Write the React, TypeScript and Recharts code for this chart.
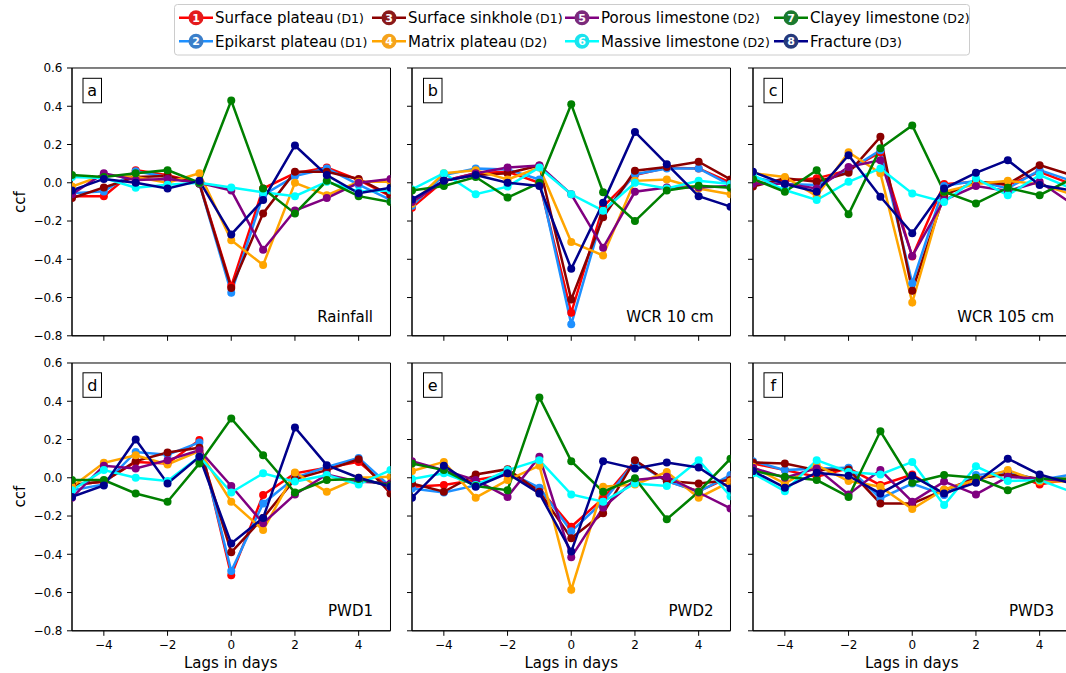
import React from 'react';
import { LineChart, Line, XAxis, YAxis, ReferenceArea } from 'recharts';

const FONT = '"DejaVu Sans", Verdana, sans-serif';

// ---------- data ----------
const lags = [-5, -4, -3, -2, -1, 0, 1, 2, 3, 4, 5];
const xTicks = [-4, -2, 0, 2, 4];
const yTicks = [-0.8, -0.6, -0.4, -0.2, 0, 0.2, 0.4, 0.6];

const seriesNumbers = [1, 2, 3, 4, 5, 6, 7, 8];
const seriesNames = [
  'Surface plateau',
  'Epikarst plateau',
  'Surface sinkhole',
  'Matrix plateau',
  'Porous limestone',
  'Massive limestone',
  'Clayey limestone',
  'Fracture',
];
const seriesDepths = ['(D1)', '(D1)', '(D1)', '(D2)', '(D2)', '(D2)', '(D2)', '(D3)'];

const panelLetters = ['a', 'b', 'c', 'd', 'e', 'f'];
const panelTitles = ['Rainfall', 'WCR 10 cm', 'WCR 105 cm', 'PWD1', 'PWD2', 'PWD3'];

// rows: series 1..8, columns: lags -5..5
const rainfallCcf = [
  [-0.07, -0.07, 0.066, 0.04, 0.0, -0.54, -0.03, 0.05, 0.08, 0.015, -0.07],
  [-0.055, -0.045, 0.06, 0.03, -0.005, -0.575, -0.065, 0.035, 0.075, -0.01, -0.09],
  [-0.08, -0.025, 0.03, 0.035, -0.005, -0.55, -0.16, 0.057, 0.057, 0.02, -0.065],
  [-0.02, 0.04, 0.03, 0.0, 0.05, -0.3, -0.43, 0.0, -0.065, 0.005, 0.005],
  [-0.06, 0.05, 0.015, 0.02, 0.0, -0.04, -0.35, -0.145, -0.08, 0.0, 0.02],
  [0.03, 0.025, -0.026, -0.01, 0.0, -0.025, -0.05, -0.07, 0.005, -0.045, -0.04],
  [0.04, 0.03, 0.05, 0.066, 0.0, 0.43, -0.03, -0.16, 0.01, -0.07, -0.1],
  [-0.04, 0.02, 0.0, -0.03, 0.01, -0.27, -0.09, 0.195, 0.04, -0.055, -0.026],
];
const wcr10Ccf = [
  [-0.13, 0.01, 0.05, 0.057, 0.0, -0.68, -0.125, 0.04, 0.078, 0.075, 0.0],
  [-0.12, 0.04, 0.075, 0.07, 0.017, -0.74, -0.16, 0.045, 0.075, 0.075, -0.012],
  [-0.1, 0.01, 0.04, 0.05, 0.09, -0.61, -0.18, 0.063, 0.083, 0.11, 0.017],
  [-0.11, 0.05, 0.066, 0.017, 0.08, -0.31, -0.38, 0.01, 0.017, -0.03, -0.06],
  [-0.1, 0.01, 0.05, 0.08, 0.09, -0.06, -0.34, -0.047, -0.025, -0.025, -0.017],
  [-0.035, 0.05, -0.06, -0.02, 0.08, -0.06, -0.146, 0.0, -0.03, 0.01, -0.007],
  [-0.04, -0.017, 0.03, -0.077, 0.0, 0.41, -0.05, -0.2, -0.04, -0.015, -0.026],
  [-0.087, 0.01, 0.04, 0.0, -0.017, -0.45, -0.105, 0.266, 0.097, -0.07, -0.125],
];
const wcr105Ccf = [
  [-0.005, 0.01, 0.023, 0.066, 0.16, -0.386, -0.007, 0.005, -0.012, 0.057, -0.007],
  [0.03, -0.007, -0.012, 0.066, 0.17, -0.525, -0.017, 0.01, -0.03, 0.066, 0.01],
  [-0.02, 0.023, 0.005, 0.052, 0.24, -0.565, -0.065, 0.005, -0.007, 0.092, 0.04],
  [0.05, 0.03, -0.07, 0.16, 0.05, -0.626, -0.047, -0.007, 0.01, -0.007, -0.06],
  [-0.005, -0.005, -0.03, 0.083, 0.118, -0.383, -0.09, -0.017, -0.043, 0.005, -0.108],
  [0.04, -0.038, -0.09, 0.005, 0.075, -0.056, -0.1, 0.023, -0.065, 0.04, -0.03],
  [0.02, -0.047, 0.066, -0.165, 0.18, 0.3, -0.047, -0.108, -0.026, -0.065, 0.02],
  [0.057, -0.007, -0.047, 0.144, -0.073, -0.264, -0.03, 0.052, 0.118, -0.012, -0.04],
];
const pwd1Ccf = [
  [-0.038, -0.02, 0.083, 0.075, 0.197, -0.51, -0.09, 0.023, 0.052, 0.083, -0.056],
  [-0.065, -0.035, 0.135, 0.12, 0.185, -0.487, -0.134, 0.0, 0.057, 0.104, -0.047],
  [-0.038, -0.02, 0.087, 0.132, 0.157, -0.39, -0.21, -0.007, 0.04, 0.097, -0.082],
  [-0.047, 0.078, 0.118, 0.07, 0.14, -0.125, -0.273, 0.028, -0.073, 0.0, 0.005],
  [-0.104, 0.063, 0.049, 0.092, 0.144, -0.043, -0.238, -0.087, 0.017, -0.02, -0.03],
  [-0.065, 0.04, 0.0, -0.017, 0.11, -0.077, 0.023, -0.02, 0.014, -0.035, 0.04],
  [-0.012, -0.012, -0.082, -0.125, 0.075, 0.31, 0.118, -0.077, -0.012, -0.007, -0.04],
  [-0.1, -0.04, 0.2, -0.03, 0.11, -0.343, -0.21, 0.263, 0.066, 0.0, -0.047],
];
const pwd2Ccf = [
  [-0.047, -0.038, -0.012, 0.017, -0.056, -0.256, -0.108, 0.087, -0.017, -0.07, 0.005],
  [-0.056, -0.077, -0.04, 0.03, -0.052, -0.28, -0.125, 0.083, -0.017, -0.073, 0.014],
  [-0.03, -0.073, 0.017, 0.045, -0.073, -0.316, -0.186, 0.092, -0.017, -0.03, -0.012],
  [0.035, 0.083, -0.104, -0.012, 0.063, -0.586, -0.047, -0.035, 0.03, -0.104, -0.02],
  [0.087, 0.04, -0.012, -0.1, 0.11, -0.415, -0.156, -0.012, 0.005, -0.077, -0.16],
  [-0.007, 0.023, -0.038, 0.04, 0.092, -0.087, -0.125, -0.03, -0.043, 0.092, -0.096],
  [0.075, 0.04, -0.043, -0.065, 0.42, 0.087, -0.073, -0.003, -0.217, -0.073, 0.1],
  [-0.104, 0.063, -0.047, 0.023, -0.082, -0.386, 0.087, 0.049, 0.08, 0.054, -0.056],
];
const pwd3Ccf = [
  [0.075, 0.04, 0.005, 0.049, -0.038, 0.017, -0.087, -0.007, 0.028, -0.035, -0.005],
  [0.087, 0.04, 0.049, 0.052, -0.108, -0.03, -0.09, 0.014, 0.03, -0.012, 0.017],
  [0.08, 0.075, 0.04, 0.043, -0.134, -0.134, -0.065, -0.003, 0.017, -0.005, -0.007],
  [0.057, -0.03, 0.066, -0.017, -0.047, -0.163, -0.061, -0.012, 0.04, -0.02, -0.02],
  [0.052, 0.0, 0.049, -0.087, 0.04, -0.125, -0.02, -0.087, 0.005, -0.005, -0.02],
  [0.023, -0.07, 0.092, 0.03, 0.017, 0.083, -0.143, 0.06, -0.017, -0.012, -0.073],
  [0.035, 0.005, -0.012, -0.1, 0.243, -0.026, 0.014, 0.0, -0.065, -0.005, -0.005],
  [0.035, -0.052, 0.026, 0.01, -0.082, 0.01, -0.082, -0.026, 0.1, 0.017, -0.03],
];

const panelData = [rainfallCcf, wcr10Ccf, wcr105Ccf, pwd1Ccf, pwd2Ccf, pwd3Ccf];

// ---------- styles ----------
const lineColors = ['#ff0000', '#1e90ff', '#8b0000', '#ffa500', '#800080', '#00ffff', '#008000', '#00008b'];
const legendCircleColors = ['#e41a1c', '#3b7fca', '#8b1a1a', '#f5a31c', '#7b2a7b', '#19e3ee', '#1b7a2e', '#263a7c'];

const PANEL_LEFTS = [71.5, 412, 752.5];
const PANEL_TOPS = [68.3, 362.8];
const PW = 318.5;
const PH = 267.8;
const Y_AXIS_W = 60;
const X_AXIS_H = 50;
const M_TOP = 10;
const M_RIGHT = 10;

const LEGEND_COLS = [179, 372, 565, 774];
const LEGEND_ROWS = [17.7, 41.2];

const fmtX = (v: number) => (v < 0 ? '\u2212' : '') + Math.abs(v).toString();
const fmtY = (v: number) => (v < -1e-9 ? '\u2212' : '') + Math.abs(v).toFixed(1);

function buildRows(panel: number[][]) {
  return lags.map((lag, j) => {
    const row: Record<string, number> = { lag };
    panel.forEach((s, i) => {
      row['s' + i] = s[j];
    });
    return row;
  });
}

function Panel({ index }: { index: number }) {
  const col = index % 3;
  const rowIdx = Math.floor(index / 3);
  const left = PANEL_LEFTS[col] - Y_AXIS_W;
  const top = PANEL_TOPS[rowIdx] - M_TOP;
  const width = Y_AXIS_W + PW + M_RIGHT;
  const height = M_TOP + PH + X_AXIS_H;
  const rows = buildRows(panelData[index]);
  const showX = rowIdx === 1;
  const showY = col === 0;
  return (
    <div style={{ position: 'absolute', left, top, width, height }}>
      <LineChart
        width={width}
        height={height}
        data={rows}
        margin={{ top: M_TOP, right: M_RIGHT, bottom: 0, left: 0 }}
      >
        <XAxis
          dataKey="lag"
          type="number"
          domain={[-5, 5]}
          ticks={xTicks}
          interval={0}
          allowDataOverflow
          height={X_AXIS_H}
          tickSize={5}
          tickMargin={4.5}
          axisLine={{ stroke: '#000', strokeWidth: 1 }}
          tickLine={{ stroke: '#000', strokeWidth: 1 }}
          tick={{ fontSize: 12, fill: '#000', fontFamily: FONT }}
          tickFormatter={showX ? fmtX : () => ''}
        />
        <YAxis
          type="number"
          domain={[-0.8, 0.6]}
          ticks={yTicks}
          interval={0}
          allowDataOverflow
          width={Y_AXIS_W}
          tickSize={5}
          tickMargin={4.5}
          axisLine={{ stroke: '#000', strokeWidth: 1 }}
          tickLine={{ stroke: '#000', strokeWidth: 1 }}
          tick={{ fontSize: 12, fill: '#000', fontFamily: FONT }}
          tickFormatter={showY ? fmtY : () => ''}
        />
        {seriesNames.map((name, i) => (
          <Line
            key={name}
            type="linear"
            dataKey={'s' + i}
            name={name}
            stroke={lineColors[i]}
            strokeWidth={2.5}
            dot={{ r: 4, fill: lineColors[i], stroke: lineColors[i], strokeWidth: 0 }}
            activeDot={false}
            isAnimationActive={false}
          />
        ))}
        <ReferenceArea
          x1={-5}
          x2={5}
          y1={-0.8}
          y2={0.6}
          fill="none"
          fillOpacity={0}
          stroke="#000"
          strokeWidth={1}
          ifOverflow="visible"
        />
      </LineChart>
    </div>
  );
}

function Overlay() {
  return (
    <svg
      width={1066}
      height={673}
      style={{ position: 'absolute', left: 0, top: 0, pointerEvents: 'none' }}
      fontFamily={FONT}
    >
      {/* panel letters and titles */}
      {panelLetters.map((letter, index) => {
        const col = index % 3;
        const r = Math.floor(index / 3);
        const pl = PANEL_LEFTS[col];
        const pt = PANEL_TOPS[r];
        return (
          <g key={letter}>
            <rect x={pl + 11.5} y={pt + 10} width={18.5} height={24.5} fill="#fff" stroke="#000" strokeWidth={1} />
            <text x={pl + 20.75} y={pt + 22.5} fontSize={16} textAnchor="middle" dominantBaseline="central" fill="#000">
              {letter}
            </text>
            <text x={pl + PW - 17} y={pt + PH - 14.5} fontSize={15} textAnchor="end" fill="#000">
              {panelTitles[index]}
            </text>
          </g>
        );
      })}
      {/* axis labels */}
      {PANEL_TOPS.map((pt, r) => (
        <text
          key={'ccf' + r}
          x={20}
          y={pt + PH / 2}
          fontSize={15}
          textAnchor="middle"
          dominantBaseline="central"
          transform={`rotate(-90, 20, ${pt + PH / 2})`}
          fill="#000"
        >
          ccf
        </text>
      ))}
      {PANEL_LEFTS.map((pl, c) => (
        <text key={'lag' + c} x={pl + PW / 2} y={663} fontSize={15} textAnchor="middle" dominantBaseline="central" fill="#000">
          Lags in days
        </text>
      ))}
      {/* legend */}
      <rect x={174.5} y={4.5} width={795} height={50.5} rx={3} fill="#fff" stroke="#cccccc" strokeWidth={1} />
      {seriesNames.map((name, i) => {
        const c = Math.floor(i / 2);
        const r = i % 2;
        const x0 = LEGEND_COLS[c];
        const cy = LEGEND_ROWS[r];
        return (
          <g key={'leg' + i}>
            <line x1={x0} y1={cy} x2={x0 + 34} y2={cy} stroke={lineColors[i]} strokeWidth={2.5} />
            <circle cx={x0 + 17} cy={cy} r={7.5} fill={legendCircleColors[i]} />
            <text x={x0 + 17} y={cy + 0.5} fontSize={11} fontWeight="bold" fill="#fff" textAnchor="middle" dominantBaseline="central">
              {seriesNumbers[i]}
            </text>
            <text x={x0 + 36} y={cy + 5.3} fontSize={15} fill="#000">
              {name}
              <tspan fontSize={12.5} dx={3}>{seriesDepths[i]}</tspan>
            </text>
          </g>
        );
      })}
    </svg>
  );
}

export default function App() {
  return (
    <div
      style={{
        position: 'absolute',
        left: 0,
        top: 0,
        width: 1066,
        height: 673,
        overflow: 'hidden',
        background: '#fff',
        fontFamily: FONT,
      }}
    >
      {panelLetters.map((l, i) => (
        <Panel key={l} index={i} />
      ))}
      <Overlay />
    </div>
  );
}
